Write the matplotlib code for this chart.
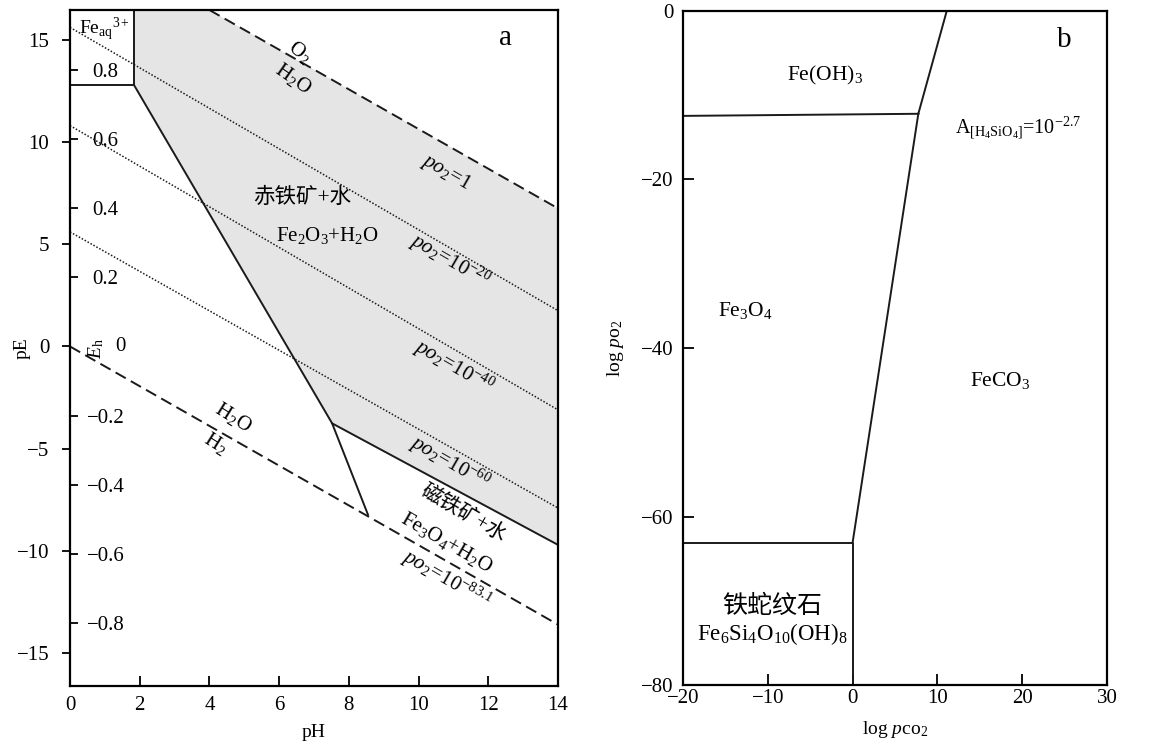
import matplotlib
matplotlib.use("Agg")
import matplotlib.pyplot as plt

plt.rcParams['font.family'] = ['Liberation Serif', 'Noto Sans CJK SC']
plt.rcParams['mathtext.fontset'] = 'custom'
plt.rcParams['mathtext.rm'] = 'Liberation Serif'
plt.rcParams['mathtext.it'] = 'Liberation Serif:italic'
plt.rcParams['mathtext.bf'] = 'Liberation Serif:bold'
plt.rcParams['axes.unicode_minus'] = True

# ---- panel a: pE-pH ----
ph_lim = (0, 14)
pe_lim = (-16.6, 16.45)
pe_ticks = [15, 10, 5, 0, -5, -10, -15]
ph_ticks = [0, 2, 4, 6, 8, 10, 12, 14]
eh_ticks = [0.8, 0.6, 0.4, 0.2, -0.2, -0.4, -0.6, -0.8]
eh_per_pe = 0.05916

o2_ph = [4.0, 14]
o2_pe = [16.45, 6.75]
h2_ph = [0, 14]
h2_pe = [0, -13.6]

po2_20_ph = [0, 14]
po2_20_pe = [15.6, 1.75]
po2_40_ph = [0, 14]
po2_40_pe = [10.8, -3.1]
po2_60_ph = [0, 14]
po2_60_pe = [5.6, -7.9]

fe3_ph = [0, 1.83, 1.83]
fe3_pe = [12.8, 12.8, 16.45]
hem_ph = [1.83, 7.52, 8.55]
hem_pe = [12.8, -3.76, -8.23]
mag_ph = [7.52, 14]
mag_pe = [-3.76, -9.7]

# hematite field (grey)
field_ph = [1.83, 4.0, 14, 14, 7.52, 1.83]
field_pe = [16.45, 16.45, 6.75, -9.7, -3.76, 12.8]

# ---- panel b: log pO2 - log pCO2 ----
co2_lim = (-20, 30)
o2_lim = (-80, 0)
co2_ticks = [-20, -10, 0, 10, 20, 30]
o2_ticks = [0, -20, -40, -60, -80]

feoh_x = [-20, 7.75]
feoh_y = [-12.45, -12.2]
sid_up_x = [11.1, 7.75]
sid_up_y = [0, -12.2]
sid_lo_x = [7.75, 0]
sid_lo_y = [-12.2, -63.1]
grn_x = [-20, 0, 0]
grn_y = [-63.1, -63.1, -80]

fig = plt.figure(figsize=(11.49, 7.41), dpi=100)
axa = fig.add_axes([70 / 1149, 1 - 686 / 741, 488 / 1149, 676 / 741])
axb = fig.add_axes([683 / 1149, 1 - 685 / 741, 424 / 1149, 674 / 741])

lc = '#1a1a1a'

# panel a
axa.fill(field_ph, field_pe, color='#e5e5e5', lw=0, zorder=0)
axa.plot(o2_ph, o2_pe, color=lc, lw=1.4, ls=(0, (6, 3)))
axa.plot(h2_ph, h2_pe, color=lc, lw=1.4, ls=(0, (6, 3)))
for xs, ys in [(po2_20_ph, po2_20_pe), (po2_40_ph, po2_40_pe), (po2_60_ph, po2_60_pe)]:
    axa.plot(xs, ys, color=lc, lw=1.1, ls=(0, (1, 1.2)))
axa.plot(fe3_ph, fe3_pe, color=lc, lw=1.4)
axa.plot(hem_ph, hem_pe, color=lc, lw=1.4)
axa.plot(mag_ph, mag_pe, color=lc, lw=1.4)

axa.set_xlim(ph_lim)
axa.set_ylim(pe_lim)
axa.set_xticks(ph_ticks)
axa.set_yticks(pe_ticks)
axa.tick_params(axis='x', direction='in', length=7, width=1.3, labelsize=15, pad=7)
axa.tick_params(axis='y', direction='out', length=6, width=1.3, labelsize=15, pad=9)
for s in axa.spines.values():
    s.set_linewidth(1.6)
axa.set_xlabel('pH', fontsize=14, labelpad=7)
axa.set_ylabel('pE', fontsize=14)
axa.yaxis.set_label_coords(-0.08, 0.5)

sec = axa.secondary_yaxis('left', functions=(lambda p: p * eh_per_pe, lambda e: e / eh_per_pe))
sec.set_yticks(eh_ticks)
sec.set_yticklabels([f'{v:.1f}'.replace('-', '\u2212') for v in eh_ticks])
sec.tick_params(direction='in', length=6, width=1.3, labelsize=15, pad=-25.5)
for t in sec.get_yticklabels():
    t.set_horizontalalignment('center')
sec.spines['left'].set_visible(False)

axa.text(0.75, -0.1, r'$E_{\rm h}$', fontsize=14, rotation=90, ha='center', va='center')
axa.text(1.45, 0, '0', fontsize=15, ha='center', va='center')

axa.text(1.0, 15.5, r'Fe$_{\mathrm{aq}}{}^{3+}$', fontsize=14, ha='center', va='center')
axa.text(12.5, 15.1, 'a', fontsize=21, ha='center', va='center')
axa.text(6.6, 14.4, r'O$_2$', fontsize=15, rotation=-38, ha='center', va='center')
axa.text(6.4, 13.1, r'H$_2$O', fontsize=15, rotation=-35, ha='center', va='center')
axa.text(10.8, 8.5, r'$\mathit{po}_{2}\!=\!\mathit{1}$', fontsize=15, rotation=-30,
         ha='center', va='center', rotation_mode='anchor')
axa.text(6.66, 7.25, '赤铁矿+水', fontsize=15.5, ha='center', va='center')
axa.text(7.4, 5.44, r'Fe$_2$O$_3$+H$_2$O', fontsize=15, ha='center', va='center')
axa.text(10.9, 4.2, r'$\mathit{po}_{2}\!=\!\mathit{10}^{-20}$', fontsize=15, rotation=-30,
         ha='center', va='center', rotation_mode='anchor')
axa.text(11.0, -1.0, r'$\mathit{po}_{2}\!=\!\mathit{10}^{-40}$', fontsize=15, rotation=-30,
         ha='center', va='center', rotation_mode='anchor')
axa.text(10.9, -5.7, r'$\mathit{po}_{2}\!=\!\mathit{10}^{-60}$', fontsize=15, rotation=-30,
         ha='center', va='center', rotation_mode='anchor')
axa.text(11.27, -8.2, '磁铁矿+水', fontsize=15, rotation=-30,
         ha='center', va='center', rotation_mode='anchor')
axa.text(10.8, -9.6, r'Fe$_3$O$_4$+H$_2$O', fontsize=15, rotation=-30,
         ha='center', va='center', rotation_mode='anchor')
axa.text(10.8, -11.4, r'$\mathit{po}_{2}\!=\!\mathit{10}^{-83.1}$', fontsize=15, rotation=-30,
         ha='center', va='center', rotation_mode='anchor')
axa.text(4.68, -3.47, r'H$_2$O', fontsize=15, rotation=-32, ha='center', va='center',
         rotation_mode='anchor')
axa.text(4.17, -4.75, r'H$_2$', fontsize=15, rotation=-32, ha='center', va='center',
         rotation_mode='anchor')

# panel b
axb.plot(feoh_x, feoh_y, color=lc, lw=1.4)
axb.plot(sid_up_x, sid_up_y, color=lc, lw=1.4)
axb.plot(sid_lo_x, sid_lo_y, color=lc, lw=1.4)
axb.plot(grn_x, grn_y, color=lc, lw=1.4)

axb.set_xlim(co2_lim)
axb.set_ylim(o2_lim)
axb.set_xticks(co2_ticks)
axb.set_yticks(o2_ticks)
axb.tick_params(axis='x', direction='in', length=8, width=1.3, labelsize=15, pad=3)
axb.tick_params(axis='y', direction='in', length=8, width=1.3, labelsize=15, pad=7)
for s in axb.spines.values():
    s.set_linewidth(1.6)
axb.set_xlabel(r'log $\mathit{p}$co$_2$', fontsize=14, labelpad=8)
axb.set_ylabel(r'log $\mathit{p}$o$_2$', fontsize=14)
axb.yaxis.set_label_coords(-0.135, 0.5)

axb.text(-3.25, -7.6, r'Fe(OH)$_3$', fontsize=15.5, ha='center', va='center')
axb.text(19.5, -13.9, r'A$_{[\mathrm{H_4SiO_4}]}$=10$^{-2.7}$', fontsize=14.5, ha='center', va='center')
axb.text(-12.7, -35.5, r'Fe$_3$O$_4$', fontsize=15.5, ha='center', va='center')
axb.text(17.4, -43.8, r'FeCO$_3$', fontsize=15.5, ha='center', va='center')
axb.text(-9.5, -70.6, '铁蛇纹石', fontsize=18, ha='center', va='center')
axb.text(-9.5, -73.9, r'Fe$_6$Si$_4$O$_{10}$(OH)$_8$', fontsize=16.5, ha='center', va='center')
axb.text(25, -3.4, 'b', fontsize=21, ha='center', va='center')

fig.savefig('out.png', dpi=100)
